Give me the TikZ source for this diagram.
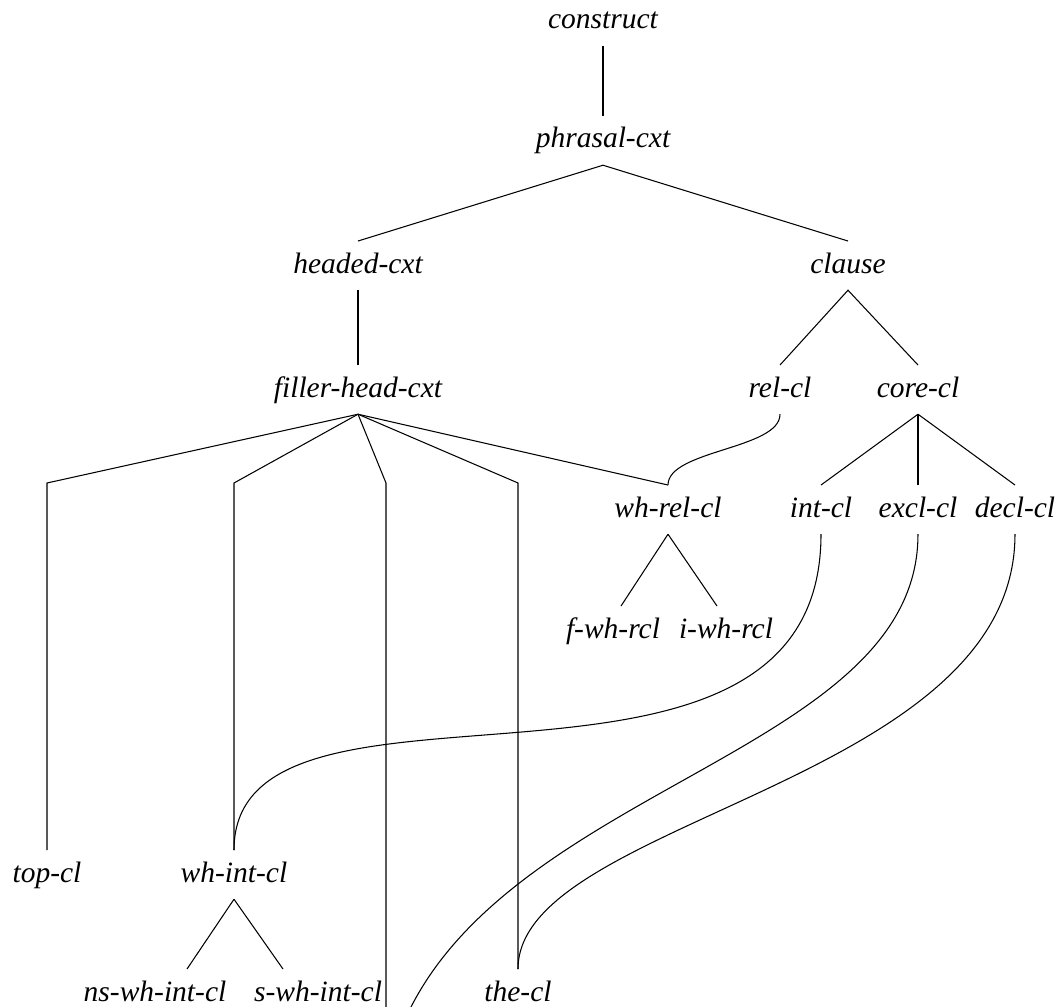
\documentclass[tikz,border=0pt]{standalone}
\usepackage{fontspec}
\setmainfont{Liberation Serif}
\usetikzlibrary{calc}
\tikzstyle{type} = [font=\fontsize{16.8}{20}\selectfont\itshape,
   text height=13pt, text depth=4.6pt, inner sep=5pt, anchor=base]
\tikzstyle{line} = [draw, line width=0.6pt]
\begin{document}
\begin{tikzpicture}[x=0.02cm, y=-0.02cm]
\useasboundingbox (0,0) rectangle (1062,1007);
\clip (0,0) rectangle (1062,1007);
% Place nodes
\node [type] (construct) at (603,29) {construct};
\node [type] (phrasal) at (603,148) {phrasal-cxt};
\node [type] (headed) at (358,273) {headed-cxt};
\node [type] (clause) at (848,273) {clause};
\node [type] (fillerhead) at (358,397) {filler-head-cxt};
\node [type] (relcl) at (780,397) {rel-cl};
\node [type] (corecl) at (918,397) {core-cl};
\node [type] (whrelcl) at (668,517) {wh-rel-cl};
\node [type] (intcl) at (821,517) {int-cl};
\node [type] (exclcl) at (918,517) {excl-cl};
\node [type] (declcl) at (1015,517) {decl-cl};
\node [type] (fwhrcl) at (613,638) {f-wh-rcl};
\node [type] (iwhrcl) at (726,638) {i-wh-rcl};
\node [type] (topcl) at (47,882) {top-cl};
\node [type] (whintcl) at (234,882) {wh-int-cl};
\node [type] (nswhintcl) at (155,1001) {ns-wh-int-cl};
\node [type] (swhintcl) at (318,1001) {s-wh-int-cl};
\node [type] (thecl) at (518,1001) {the-cl};
% bends and ends below the page
\coordinate (topbend) at (47,483);
\coordinate (whintbend) at (234,483);
\coordinate (midbend) at (386,483);
\coordinate (thebend) at (518,483);
\coordinate (midend) at (386,1100);
\coordinate (exclend) at (380,1140);
% Draw edges
\path [line] (construct.south) -- (phrasal.north);
\path [line] (headed.north) -- (phrasal.south) -- (clause.north);
\path [line] (headed.south) -- (fillerhead.north);
\path [line] (relcl.north) -- (clause.south) -- (corecl.north);
\path [line] (fillerhead.south) -- (topbend) -- (topcl.north);
\path [line] (fillerhead.south) -- (whintbend) -- (whintcl.north);
\path [line] (fillerhead.south) -- (midbend) -- (midend);
\path [line] (fillerhead.south) -- (thebend) -- (thecl.north);
\path [line] (fillerhead.south) -- (whrelcl.north);
\path [line] (relcl.south) .. controls +(0,35) and +(0,-35) .. (whrelcl.north);
\path [line] (corecl.south) -- (intcl.north);
\path [line] (corecl.south) -- (exclcl.north);
\path [line] (corecl.south) -- (declcl.north);
\path [line] (whrelcl.south) -- ($(fwhrcl.north)+(8,0)$);
\path [line] (whrelcl.south) -- ($(iwhrcl.north)+(-9,0)$);
\path [line] (whintcl.south) -- ($(nswhintcl.north)+(32,0)$);
\path [line] (whintcl.south) -- ($(swhintcl.north)+(-35,0)$);
\path [line] (intcl.south) .. controls +(0,317) and +(0,-212) .. (whintcl.north);
\path [line] (exclcl.south) .. controls +(0,250) and +(0,-350) .. (exclend);
\path [line] (declcl.south) .. controls +(0,250) and +(0,-150) .. (thecl.north);
\end{tikzpicture}
\end{document}
